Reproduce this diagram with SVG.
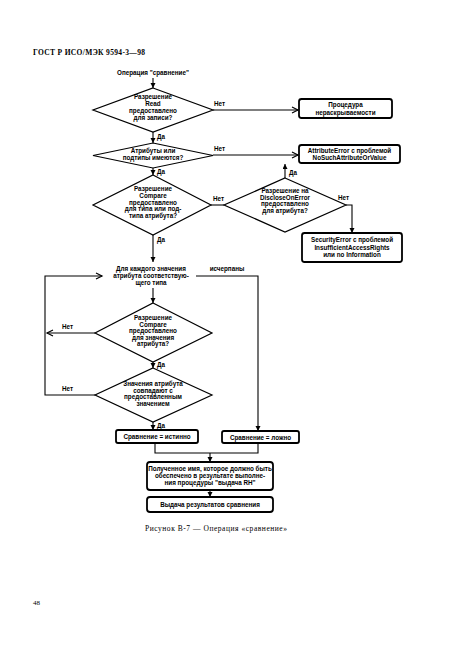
<svg xmlns="http://www.w3.org/2000/svg" width="459" height="661" viewBox="0 0 459 661">
<defs>
<style>
.s{font-family:"Liberation Sans",Arial,sans-serif;font-size:6.3px;font-weight:bold;text-anchor:middle;fill:#000}
.l{font-family:"Liberation Sans",Arial,sans-serif;font-size:6.3px;font-weight:bold;fill:#000}
.r{font-family:"Liberation Serif","Times New Roman",serif;fill:#000}
.d{fill:#fff;stroke:#000;stroke-width:1.2}
.b{fill:#fff;stroke:#000;stroke-width:1.8}
.c{fill:none;stroke:#000;stroke-width:1.1}
</style>
<marker id="o" markerUnits="userSpaceOnUse" markerWidth="9" markerHeight="9" refX="7" refY="4" orient="auto"><path d="M1,1 L7,4 L1,7" fill="none" stroke="#000" stroke-width="1.2"/></marker>
<marker id="f" markerUnits="userSpaceOnUse" markerWidth="6" markerHeight="6" refX="5" refY="2.5" orient="auto"><path d="M0,0 L5,2.5 L0,5 z" fill="#000"/></marker>
</defs>
<rect width="459" height="661" fill="#fff"/>
<text class="r" x="33" y="55" font-size="7.5" font-weight="bold" textLength="112">ГОСТ Р ИСО/МЭК 9594-3—98</text>
<text class="s" x="153" y="75">Операция "сравнение"</text>

<g id="connectors">
<path class="c" d="M153,78 V88" marker-end="url(#f)"/>
<path class="c" d="M213,110 H298" marker-end="url(#o)"/>
<path class="c" d="M153,132 V143" marker-end="url(#f)"/>
<path class="c" d="M213,155 H298" marker-end="url(#o)"/>
<path class="c" d="M153,168 V175" marker-end="url(#f)"/>
<path class="c" d="M211,205 H224"/>
<path class="c" d="M285,178 V164" marker-end="url(#f)"/>
<path class="c" d="M346,205 H352 V233" marker-end="url(#f)"/>
<path class="c" d="M153,235 V262" marker-end="url(#f)"/>
<path class="c" d="M95,395 H45 V276 H102" marker-end="url(#o)"/>
<path class="c" d="M196,276 H258 V431" marker-end="url(#f)"/>
<path class="c" d="M153,288 V303" marker-end="url(#f)"/>
<path class="c" d="M95,333 H47" marker-end="url(#o)"/>
<path class="c" d="M153,362 V368" marker-end="url(#f)"/>
<path class="c" d="M153,422 V430" marker-end="url(#f)"/>
<path class="c" d="M155,443 V453 H258 V443"/>
<path class="c" d="M210,453 V462" marker-end="url(#f)"/>
<path class="c" d="M210,490 V497" marker-end="url(#f)"/>
<text class="l" x="214" y="106">Нет</text>
<text class="l" x="157" y="139">Да</text>
<text class="l" x="214" y="151">Нет</text>
<text class="l" x="157" y="174">Да</text>
<text class="l" x="213" y="201">Нет</text>
<text class="l" x="289" y="175">Да</text>
<text class="l" x="338" y="200">Нет</text>
<text class="l" x="157" y="242">Да</text>
<text class="s" x="227" y="271">исчерпаны</text>
<text class="l" x="62" y="329">Нет</text>
<text class="l" x="157" y="367">Да</text>
<text class="l" x="62" y="391">Нет</text>
<text class="l" x="157" y="428">Да</text>
</g>

<g id="d1"><polygon class="d" points="153,88 213,110 153,132 93,110"/>
<text class="s" x="153" y="99">Разрешение</text><text class="s" x="153" y="105.5">Read</text><text class="s" x="153" y="113">предоставлено</text><text class="s" x="153" y="120">для записи?</text></g>

<g id="box1"><rect class="b" x="299" y="99" width="93" height="19" rx="2.5"/>
<text class="s" x="345.5" y="107">Процедура</text><text class="s" x="345.5" y="114.5">нераскрываемости</text></g>

<g id="d2"><polygon class="d" points="153,143 213,155.5 153,168 93,155.5"/>
<text class="s" x="153" y="153">Атрибуты или</text><text class="s" x="153" y="160">подтипы имеются?</text></g>

<g id="box2"><rect class="b" x="299" y="145" width="101" height="18" rx="2.5"/>
<text class="s" x="349.5" y="152.5">AttributeError с проблемой</text><text class="s" x="349.5" y="160">NoSuchAttributeOrValue</text></g>

<g id="d3"><polygon class="d" points="153,175 211,205 153,235 93,205"/>
<text class="s" x="153" y="191">Разрешение</text><text class="s" x="153" y="197.5">Compare</text><text class="s" x="153" y="204.5">предоставлено</text><text class="s" x="153" y="211">для типа или под-</text><text class="s" x="153" y="218">типа атрибута?</text></g>

<g id="d4"><polygon class="d" points="285,178 346,205 285,232 224,205"/>
<text class="s" x="285" y="193">Разрешение на</text><text class="s" x="285" y="199.5">DiscloseOnError</text><text class="s" x="285" y="206">предоставлено</text><text class="s" x="285" y="212.5">для атрибута?</text></g>

<g id="box3"><rect class="b" x="302" y="233" width="100" height="29" rx="2.5"/>
<text class="s" x="352" y="242">SecurityError с проблемой</text><text class="s" x="352" y="249.5">InsufficientAccessRights</text><text class="s" x="352" y="257">или no Information</text></g>

<g id="loop"><text class="s" x="151" y="271">Для каждого значения</text><text class="s" x="151" y="278">атрибута соответствую-</text><text class="s" x="151" y="285">щего типа</text></g>

<g id="d5"><polygon class="d" points="153,303 212,333 153,362 95,333"/>
<text class="s" x="153" y="320">Разрешение</text><text class="s" x="153" y="326.5">Compare</text><text class="s" x="153" y="333">предоставлено</text><text class="s" x="153" y="339.5">для значения</text><text class="s" x="153" y="346">атрибута?</text></g>

<g id="d6"><polygon class="d" points="153,368 212,395 153,422 95,395"/>
<text class="s" x="153" y="386">Значения атрибута</text><text class="s" x="153" y="392.5">совпадают с</text><text class="s" x="153" y="399">предоставленным</text><text class="s" x="153" y="405.5">значением</text></g>

<g id="true"><rect class="b" x="116" y="430" width="82" height="13" rx="2"/>
<text class="s" x="157" y="439">Сравнение = истинно</text></g>

<g id="false"><rect class="b" x="222" y="431" width="77" height="12" rx="2"/>
<text class="s" x="260.5" y="439.5">Сравнение = ложно</text></g>

<g id="name"><rect class="b" x="147" y="462" width="126" height="28" rx="3"/>
<text class="s" x="210" y="470.5">Полученное имя, которое должно быть</text><text class="s" x="210" y="477.5">обеспечено в результате выполне-</text><text class="s" x="210" y="484.5">ния процедуры "выдача RH"</text></g>

<g id="result"><rect class="b" x="147" y="497" width="126" height="15" rx="3"/>
<text class="s" x="210" y="506.5">Выдача результатов сравнения</text></g>

<text class="r" x="145" y="531" font-size="7.5" textLength="142">Рисунок В-7 — Операция «сравнение»</text>
<text class="r" x="33" y="605" font-size="7">48</text>
</svg>
